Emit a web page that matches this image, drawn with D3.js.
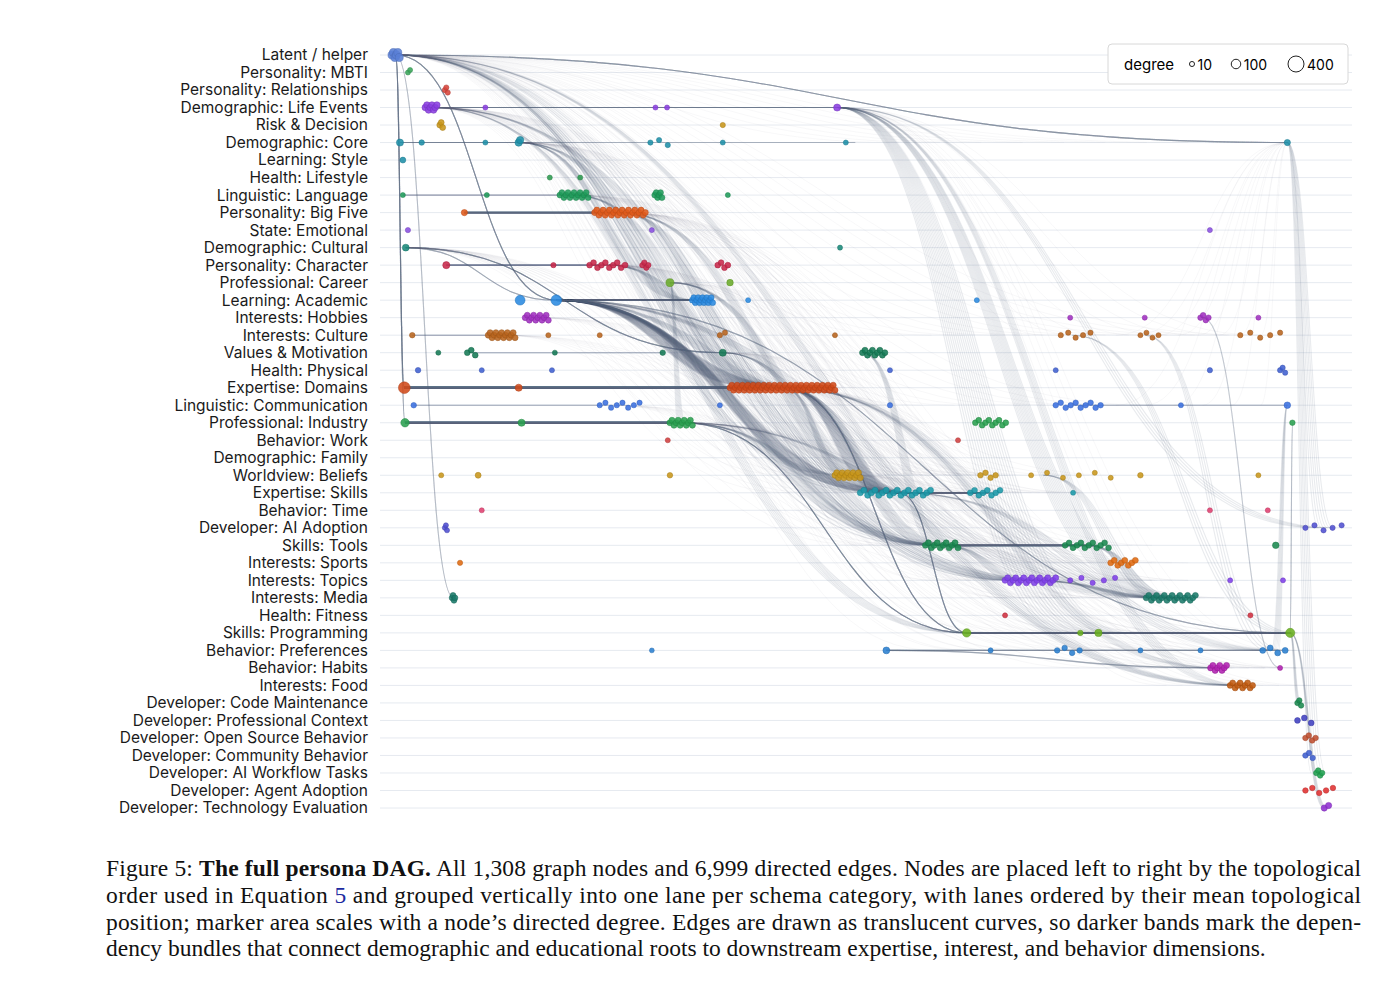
<!DOCTYPE html>
<html>
<head>
<meta charset="utf-8">
<script src="https://cdn.jsdelivr.net/npm/d3@7"></script>
<style>
  body { margin: 0; background: #fff; }
  svg { display: block; }
</style>
</head>
<body>
<svg id="chart" width="1384" height="988"></svg>
<script>
// lanes, top to bottom
const lanes = [
  "Latent / helper", "Personality: MBTI", "Personality: Relationships", "Demographic: Life Events",
  "Risk & Decision", "Demographic: Core", "Learning: Style", "Health: Lifestyle",
  "Linguistic: Language", "Personality: Big Five", "State: Emotional", "Demographic: Cultural",
  "Personality: Character", "Professional: Career", "Learning: Academic", "Interests: Hobbies",
  "Interests: Culture", "Values & Motivation", "Health: Physical", "Expertise: Domains",
  "Linguistic: Communication", "Professional: Industry", "Behavior: Work", "Demographic: Family",
  "Worldview: Beliefs", "Expertise: Skills", "Behavior: Time", "Developer: AI Adoption",
  "Skills: Tools", "Interests: Sports", "Interests: Topics", "Interests: Media",
  "Health: Fitness", "Skills: Programming", "Behavior: Preferences", "Behavior: Habits",
  "Interests: Food", "Developer: Code Maintenance", "Developer: Professional Context",
  "Developer: Open Source Behavior", "Developer: Community Behavior", "Developer: AI Workflow Tasks",
  "Developer: Agent Adoption", "Developer: Technology Evaluation"
];
const laneColors = [
  "#5a7fd6", "#3aa55a", "#d6453c", "#8a3ee0", "#c8961a", "#1e8fa8", "#1e8fa8", "#2d9b50",
  "#1f9b5a", "#e05a1a", "#8a50e0", "#1a8a7a", "#c8284a", "#6aab2a", "#2a8ae0", "#a030c0",
  "#b8641e", "#157a55", "#4060d0", "#d04a1a", "#3a70e0", "#2aa050", "#d04040", "#c8a020",
  "#c8961a", "#1a9aaa", "#e04070", "#5050d0", "#1a8a50", "#e06a10", "#8040e8", "#1a7a6a",
  "#d03040", "#6ab020", "#2a80d0", "#b020b0", "#c05a10", "#1a8a50", "#4040c0", "#c05030",
  "#4060d0", "#20a050", "#e03030", "#9030d0"
];
// node clusters: [lane, first topo order, last topo order, node count, degree]
const clusters = [
  [0,0,10,6,60],[1,22,25,2,10],[2,73,77,3,12],
  [3,46,62,8,30],[3,129,129,1,10],[3,364,364,1,10],[3,380,380,1,10],[3,615,615,1,40],
  [4,66,70,3,20],[4,457,457,1,12],
  [5,11,11,1,40],[5,41,41,1,15],[5,129,129,1,10],[5,175,177,2,45],[5,357,381,3,12],[5,457,457,1,10],[5,627,627,1,10],[5,1237,1237,1,25],
  [6,15,15,1,20],[7,218,218,1,10],[7,260,260,1,10],
  [8,15,15,1,10],[8,131,131,1,10],[8,232,271,15,20],[8,363,373,6,20],[8,464,464,1,10],
  [9,100,100,1,25],[9,280,350,25,22],
  [10,22,22,1,12],[10,359,359,1,10],[10,1130,1130,1,10],
  [11,19,19,1,35],[11,619,619,1,10],
  [12,75,75,1,40],[12,223,223,1,12],[12,273,322,10,18],[12,346,354,4,15],[12,450,464,4,18],
  [13,384,384,1,60],[13,467,467,1,30],
  [14,177,177,1,110],[14,227,227,1,140],[14,415,443,15,20],[14,492,492,1,10],[14,808,808,1,10],
  [15,184,216,12,20],[15,937,937,1,10],[15,1040,1040,1,10],[15,1117,1128,4,15],[15,1197,1197,1,10],
  [16,28,28,1,15],[16,133,170,15,22],[16,216,216,1,10],[16,287,287,1,10],[16,453,460,2,12],[16,612,612,1,10],[16,924,965,5,12],[16,1034,1059,4,10],[16,1172,1227,5,12],
  [17,64,64,1,10],[17,104,115,3,18],[17,225,225,1,10],[17,374,374,1,15],[17,457,457,1,40],[17,650,681,10,20],
  [18,36,36,1,15],[18,124,124,1,10],[18,221,221,1,10],[18,688,688,1,10],[18,917,917,1,10],[18,1130,1130,1,12],[18,1227,1234,3,12],
  [19,17,17,1,180],[19,175,175,1,40],[19,467,612,60,22],
  [20,30,30,1,15],[20,287,342,8,12],[20,453,453,1,10],[20,688,688,1,12],[20,917,979,10,15],[20,1090,1090,1,10],[20,1237,1237,1,30],
  [21,18,18,1,70],[21,179,179,1,40],[21,384,415,12,22],[21,806,848,10,18],[21,1244,1244,1,15],
  [22,381,381,1,10],[22,782,782,1,10],
  [24,68,68,1,10],[24,119,119,1,20],[24,384,384,1,15],[24,612,647,15,22],[24,813,834,4,15],[24,883,993,6,10],[24,1034,1034,1,15],[24,1197,1197,1,10],
  [25,647,744,20,22],[25,799,840,8,18],[25,941,941,1,10],
  [26,124,124,1,10],[26,1130,1130,1,10],[26,1210,1210,1,10],
  [27,73,76,3,10],[27,1262,1312,5,12],
  [28,737,782,12,22],[28,930,990,12,18],[28,1221,1221,1,30],
  [29,94,94,1,12],[29,993,1027,8,20],
  [30,847,917,20,22],[30,937,999,5,12],[30,1158,1158,1,10],[30,1231,1231,1,10],
  [31,83,87,4,18],[31,1042,1110,20,20],
  [32,847,847,1,10],[32,1186,1186,1,10],
  [33,794,794,1,70],[33,951,951,1,15],[33,976,976,1,45],[33,1241,1241,1,90],
  [34,359,359,1,8],[34,683,683,1,35],[34,827,827,1,10],[34,919,950,4,15],[34,1034,1034,1,10],[34,1117,1117,1,10],[34,1203,1234,4,20],
  [35,1131,1153,8,22],[35,1227,1227,1,10],
  [36,1158,1189,10,20],
  [37,1251,1256,3,15],[38,1251,1270,3,18],[39,1262,1276,4,15],[40,1262,1272,3,15],
  [41,1277,1285,4,15],[42,1262,1300,5,15],[43,1288,1294,2,25]
];
// edge bundles: [from lane, from order, to lane, to order, curves, spread of targets]
const bundles = [
  [14,227,14,430,40,20],[19,17,19,540,50,80],[21,18,21,400,35,20],[9,100,9,315,20,30],
  [12,75,12,300,15,30],[3,55,3,615,12,0],[33,794,33,1241,40,0],[25,690,25,820,20,15],
  [28,760,28,960,20,20],[14,227,19,540,25,60],[14,227,25,700,20,40],[14,227,28,760,15,30],
  [19,540,25,700,20,40],[19,540,28,760,15,30],[21,400,28,760,12,30],[21,400,33,794,10,0],
  [19,540,33,794,10,0],[25,700,33,794,10,0],[28,760,30,880,12,30],[28,960,31,1075,12,30],
  [30,880,31,1075,10,30],[19,540,24,630,10,15],[24,630,25,700,10,30],[3,615,33,976,16,90],
  [3,615,31,1075,12,40],[0,5,5,1237,8,0],[5,1237,27,1290,6,20],[5,1237,41,1280,6,20],
  [0,5,19,17,8,0],[0,5,14,227,10,0],[0,5,21,18,6,0],[11,19,17,457,10,0],[11,19,14,227,6,0],
  [13,384,25,700,10,30],[17,457,25,700,10,30],[17,650,28,760,8,20],[13,384,21,400,6,10],
  [5,175,19,540,10,40],[5,175,14,415,10,20],[12,300,19,540,10,40],[9,315,19,540,10,40],
  [9,315,25,700,8,30],[8,250,19,540,8,30],[3,55,30,880,8,40],[3,55,24,630,6,20],
  [0,5,33,794,6,20],[0,5,36,1170,5,20],[0,5,31,85,4,0],[20,1237,34,1220,6,10],
  [33,1241,37,1253,6,5],[33,1241,43,1290,6,5],[21,1244,33,1241,4,0],[34,683,34,1220,8,30],
  [34,683,35,1140,6,10],[16,1040,34,1220,4,20],[16,940,33,1241,4,20],[20,940,20,1237,5,0],
  [24,900,31,1075,6,30],[15,1120,35,1227,3,0],[5,11,5,177,10,0],[5,177,5,640,4,0],
  [8,15,8,250,6,20],[16,28,16,150,6,20],[17,110,17,374,5,0],[20,30,20,310,5,30],
  [0,5,19,540,10,100],[0,5,25,700,8,80],[0,5,28,760,6,60],[0,5,30,880,5,60],
  [14,227,30,880,10,60],[14,227,31,1075,8,60],[19,540,31,1075,8,60],[21,400,36,1170,6,30],
  [19,540,35,1140,6,20],[25,700,34,1220,6,40],[14,227,33,1241,6,0],[3,615,36,1170,6,20],
  // background haze
  [0,5,16,950,12,500],[0,5,20,800,12,500],[0,5,24,800,12,400],[0,5,29,900,10,300],
  [3,55,19,540,12,200],[3,55,28,760,10,200],[3,55,33,1000,10,400],[3,55,35,1100,8,300],
  [9,315,28,900,12,300],[9,315,31,1000,12,300],[12,300,25,800,12,300],[12,300,30,900,10,300],
  [14,227,34,1000,12,400],[14,227,29,1000,10,200],[19,540,30,950,14,300],[19,540,34,1100,12,300],
  [21,400,30,900,12,300],[21,400,35,1150,10,200],[8,250,24,700,10,300],[8,250,31,1000,10,300],
  [11,19,25,700,10,300],[11,19,28,800,10,300],[5,177,25,800,10,300],[5,177,33,950,10,300],
  [17,457,31,1000,10,300],[24,630,33,1100,10,300],[25,700,35,1150,10,200],[28,760,36,1170,10,200],
  [16,150,24,700,8,300],[15,200,25,800,8,300],[13,384,30,950,8,300],[20,310,34,900,8,300],
  [5,1237,16,1100,8,200],[5,1237,20,1100,6,200],[0,5,5,900,8,400],[3,615,16,1050,8,300],
  [3,615,34,1200,6,100],[3,615,27,1290,4,20]
];
const legendDegrees = [10, 100, 400];

const svg = d3.select("#chart");
const x = d3.scaleLinear().domain([0, 1307]).range([392, 1338]);
const y = d3.scalePoint().domain(d3.range(lanes.length)).range([55, 808]);
const r = d3.scaleSqrt().domain([0, 400]).range([1.5, 8]);

// lane guides
svg.append("g").selectAll("line").data(lanes).join("line")
  .attr("x1", 380).attr("x2", 1352)
  .attr("y1", (d, i) => y(i)).attr("y2", (d, i) => y(i))
  .attr("stroke", "#e6eaf0").attr("stroke-width", 1);

svg.append("g").selectAll("text").data(lanes).join("text")
  .attr("x", 368).attr("y", (d, i) => y(i)).attr("dy", "0.35em")
  .attr("text-anchor", "end")
  .style("font", "15.5px Inter, 'Noto Sans', sans-serif").attr("fill", "#1a1a1a")
  .text(d => d);

// edges
const curves = [];
bundles.forEach(([fl, fo, tl, to, n, spread]) => {
  for (let i = 0; i < n; i++) {
    const t = n > 1 ? i / (n - 1) - 0.5 : 0;
    curves.push({ x1: x(fo), y1: y(fl), x2: x(Math.min(1307, to + spread * t)), y2: y(tl),
      haze: spread >= 100, core: n >= 20 && spread < 100 });
  }
});
const link = d3.linkHorizontal().source(d => [d.x1, d.y1]).target(d => [d.x2, d.y2]);
svg.append("g").attr("fill", "none").attr("stroke", "#56657f")
  .selectAll("path").data(curves).join("path")
  .attr("d", link)
  .attr("stroke-opacity", d => d.haze ? 0.06 : d.core ? 0.17 : 0.13)
  .attr("stroke-width", d => d.haze ? 0.8 : d.core ? 1.8 : 1.1);

// nodes
const nodes = [];
clusters.forEach(([lane, a, b, n, deg]) => {
  for (let i = 0; i < n; i++) {
    const o = n > 1 ? a + (b - a) * i / (n - 1) : a;
    const jitter = n > 1 ? [0, -2.5, 2.5][i % 3] : 0;
    nodes.push({ lane, o, deg, jitter });
  }
});
svg.append("g").selectAll("circle").data(nodes).join("circle")
  .attr("cx", d => x(d.o)).attr("cy", d => y(d.lane) + d.jitter)
  .attr("r", d => r(d.deg))
  .attr("fill", d => laneColors[d.lane]).attr("fill-opacity", 0.88)
  .attr("stroke", d => d3.color(laneColors[d.lane]).darker(0.5)).attr("stroke-width", 0.5);

// legend
const lg = svg.append("g").attr("transform", "translate(1108,44)");
lg.append("rect").attr("width", 240).attr("height", 40).attr("rx", 4)
  .attr("fill", "#fff").attr("stroke", "#d8d8d8");
lg.append("text").attr("x", 16).attr("y", 21).attr("dy", "0.35em")
  .style("font", "15px Inter, 'Noto Sans', sans-serif").text("degree");
const lx = [84, 128, 188];
legendDegrees.forEach((d, i) => {
  lg.append("circle").attr("cx", lx[i]).attr("cy", 20).attr("r", r(d))
    .attr("fill", "none").attr("stroke", "#222").attr("stroke-width", 1);
  lg.append("text").attr("x", lx[i] + r(d) + 3).attr("y", 21).attr("dy", "0.35em")
    .style("font", "14px Inter, 'Noto Sans', sans-serif").text(d);
});

// caption
const cap = svg.append("g").style("font", "23.5px 'Liberation Serif', 'Times New Roman', serif").attr("fill", "#111");
const l1 = cap.append("text").attr("x", 106).attr("y", 876).attr("textLength", 1255).attr("lengthAdjust", "spacing");
l1.append("tspan").text("Figure 5: ");
l1.append("tspan").attr("font-weight", "bold").text("The full persona DAG.");
l1.append("tspan").text(" All 1,308 graph nodes and 6,999 directed edges. Nodes are placed left to right by the topological");
const l2 = cap.append("text").attr("x", 106).attr("y", 903).attr("textLength", 1255).attr("lengthAdjust", "spacing");
l2.append("tspan").text("order used in Equation ");
l2.append("tspan").attr("fill", "#1c2aa0").text("5");
l2.append("tspan").text(" and grouped vertically into one lane per schema category, with lanes ordered by their mean topological");
cap.append("text").attr("x", 106).attr("y", 930).attr("textLength", 1255).attr("lengthAdjust", "spacing")
  .text("position; marker area scales with a node\u2019s directed degree. Edges are drawn as translucent curves, so darker bands mark the depen-");
cap.append("text").attr("x", 106).attr("y", 956)
  .text("dency bundles that connect demographic and educational roots to downstream expertise, interest, and behavior dimensions.");
</script>
</body>
</html>
